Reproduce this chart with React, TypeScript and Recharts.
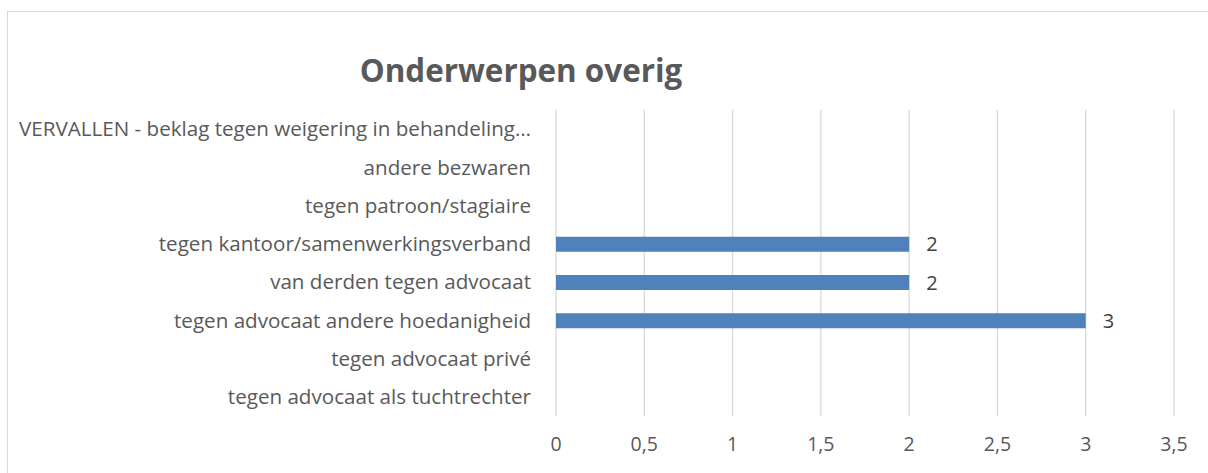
import React from "react";
import { BarChart, Bar, XAxis, YAxis, CartesianGrid, LabelList } from "recharts";

const categories = [
  "VERVALLEN - beklag tegen weigering in behandeling…",
  "andere bezwaren",
  "tegen patroon/stagiaire",
  "tegen kantoor/samenwerkingsverband",
  "van derden tegen advocaat",
  "tegen advocaat andere hoedanigheid",
  "tegen advocaat privé",
  "tegen advocaat als tuchtrechter",
];
const counts: (number | null)[] = [null, null, null, 2, 2, 3, null, null];
const xTicks = [0, 0.5, 1, 1.5, 2, 2.5, 3, 3.5];

const data = categories.map((name, i) => ({ name, value: counts[i] }));

const FONT = "'Open Sans', sans-serif";
const TEXT = "#595959";

function ValueLabel(props: any) {
  const { x, y, width, height, value } = props;
  if (value == null) return null;
  return (
    <text
      x={Number(x) + Number(width) + 17}
      y={Number(y) + Number(height) / 2}
      dy="0.35em"
      textAnchor="start"
      fill="#404040"
      fontSize={20}
      fontFamily={FONT}
    >
      {value}
    </text>
  );
}

export default function App() {
  return (
    <div style={{ position: "fixed", left: 0, top: 0, width: 1208, height: 473, overflow: "hidden", background: "#fff" }}>
      <div
        style={{
          position: "absolute",
          left: 7,
          top: 11,
          width: 1400,
          height: 700,
          border: "1.5px solid #d9d9d9",
        }}
      />
      <div
        style={{
          position: "absolute",
          left: 521,
          top: 50,
          transform: "translateX(-50%)",
          fontFamily: FONT,
          fontWeight: 700,
          fontSize: 31.4,
          lineHeight: "40px",
          color: TEXT,
          whiteSpace: "nowrap",
        }}
      >
        Onderwerpen overig
      </div>
      <div style={{ position: "absolute", left: 0, top: 0 }}>
        <BarChart
          width={1208}
          height={473}
          data={data}
          layout="vertical"
          margin={{ top: 110, right: 34, bottom: 0, left: 0 }}
        >
          <CartesianGrid horizontal={false} stroke="#d9d9d9" strokeWidth={1.3} />
          <XAxis
            type="number"
            domain={[0, 3.5]}
            ticks={xTicks}
            axisLine={false}
            tickLine={false}
            tickSize={0}
            tickMargin={21}
            height={57}
            tickFormatter={(v: number) => String(v).replace(".", ",")}
            tick={{ fill: TEXT, fontSize: 19.5, fontFamily: FONT }}
            interval={0}
          />
          <YAxis
            type="category"
            dataKey="name"
            width={556}
            axisLine={false}
            tickLine={false}
            tickSize={0}
            tickMargin={25}
            interval={0}
            tick={{ fill: TEXT, fontSize: 20.6, fontFamily: FONT }}
          />
          <Bar dataKey="value" fill="#4f81bd" barSize={15} isAnimationActive={false}>
            <LabelList dataKey="value" content={ValueLabel} />
          </Bar>
        </BarChart>
      </div>
    </div>
  );
}
